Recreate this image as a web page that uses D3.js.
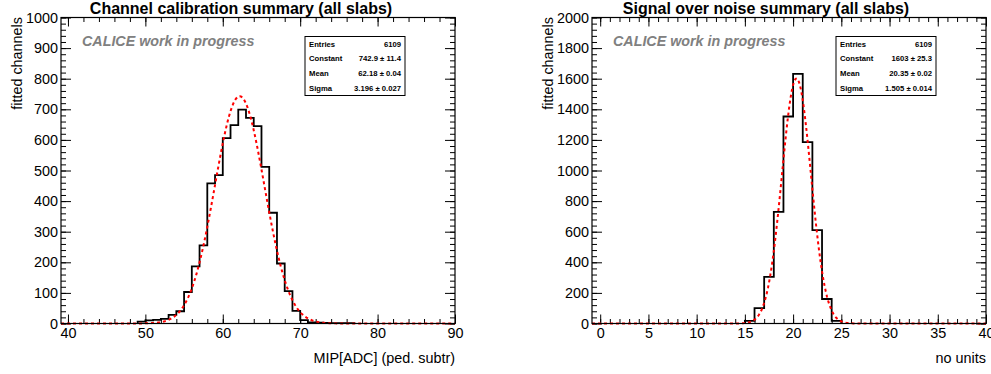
<!DOCTYPE html>
<html>
<head>
<meta charset="utf-8">
<script src="https://cdn.jsdelivr.net/npm/d3@7"></script>
<style>
  body { margin: 0; background: #fff; }
  svg { display: block; font-family: "Liberation Sans", Arial, Helvetica, sans-serif; }
</style>
</head>
<body>
<svg width="991" height="374"></svg>
<script>
// left: MIP calibration, bins of width 1 (lower edge -> entries)
const mipBinLow = [49, 50, 51, 52, 53, 54, 55, 56, 57, 58, 59, 60, 61, 62, 63, 64, 65, 66, 67, 68, 69, 70, 71, 72, 73, 74, 75, 76];
const mipCounts = [6, 10, 12, 15, 28, 40, 103, 187, 255, 458, 485, 606, 648, 699, 672, 645, 512, 362, 196, 106, 41, 11, 4, 3, 2, 1, 1, 1];
const mipFit = [742.9, 62.18, 3.196];        // constant, mean, sigma
const mipFitErr = [11.4, 0.04, 0.027];
const mipXTicks = [40, 50, 60, 70, 80, 90];
const mipYTicks = [0, 100, 200, 300, 400, 500, 600, 700, 800, 900, 1000];

// right: signal over noise
const snrBinLow = [15, 16, 17, 18, 19, 20, 21, 22, 23, 24];
const snrCounts = [17, 100, 305, 730, 1353, 1632, 1185, 610, 160, 17];
const snrFit = [1603, 20.35, 1.505];
const snrFitErr = [25.3, 0.02, 0.014];
const snrXTicks = [0, 5, 10, 15, 20, 25, 30, 35, 40];
const snrYTicks = [0, 200, 400, 600, 800, 1000, 1200, 1400, 1600, 1800, 2000];

const entries = 6109;
const statNames = ["Entries", "Constant", "Mean", "Sigma"];

const svg = d3.select("svg");

function drawPanel(p) {
    const x = d3.scaleLinear().domain(p.xDomain).range([p.left, p.left + 394]);
    const y = d3.scaleLinear().domain([0, p.yMax]).range([323.5, 17.5]);
    const x0 = x.range()[0], x1 = x.range()[1];
    const g = svg.append("g");
    const fmt = d3.format("d");

    // minor tick values
    const xStep = (p.xTicks[1] - p.xTicks[0]) / 5;
    const yStep = (p.yTicks[1] - p.yTicks[0]) / 5;
    const xMinor = d3.range(Math.ceil(p.xDomain[0] / xStep) * xStep, p.xDomain[1] + 1e-9, xStep);
    const yMinor = d3.range(0, p.yMax + 1e-9, yStep);

    const axes = [
        [d3.axisBottom(x).tickValues(p.xTicks).tickSize(-9).tickPadding(4).tickFormat(fmt), `translate(0,${y(0)})`],
        [d3.axisBottom(x).tickValues(xMinor).tickSize(-4.5).tickFormat(""), `translate(0,${y(0)})`],
        [d3.axisTop(x).tickValues(p.xTicks).tickSize(-9).tickFormat(""), `translate(0,${y(p.yMax)})`],
        [d3.axisTop(x).tickValues(xMinor).tickSize(-4.5).tickFormat(""), `translate(0,${y(p.yMax)})`],
        [d3.axisLeft(y).tickValues(p.yTicks).tickSize(-10).tickPadding(3).tickFormat(fmt), `translate(${x0},0)`],
        [d3.axisLeft(y).tickValues(yMinor).tickSize(-5).tickFormat(""), `translate(${x0},0)`],
        [d3.axisRight(y).tickValues(p.yTicks).tickSize(-10).tickFormat(""), `translate(${x1},0)`],
        [d3.axisRight(y).tickValues(yMinor).tickSize(-5).tickFormat(""), `translate(${x1},0)`]
    ];
    axes.forEach(([ax, tr]) => {
        g.append("g")
            .attr("transform", tr)
            .call(ax)
            .call(a => a.select(".domain").remove())
            .attr("font-family", null)
            .attr("font-size", 14.4)
            .selectAll("text").attr("fill", "#000");
    });

    // histogram outline (steps)
    const pts = [[p.binLow[0], 0]];
    p.binLow.forEach((lo, i) => {
        pts.push([lo, p.counts[i]]);
        pts.push([lo + 1, p.counts[i]]);
    });
    pts.push([p.binLow[p.binLow.length - 1] + 1, 0]);
    g.append("path")
        .datum(pts)
        .attr("fill", "none")
        .attr("stroke", "#000")
        .attr("stroke-width", 1.8)
        .attr("d", d3.line().x(d => x(d[0])).y(d => y(d[1])));

    // gaussian fit
    const [c, m, s] = p.fit;
    const fx = d3.range(0, 301).map(i => p.xDomain[0] + (p.xDomain[1] - p.xDomain[0]) * i / 300);
    g.append("path")
        .datum(fx)
        .attr("fill", "none")
        .attr("stroke", "#ff0000")
        .attr("stroke-width", 2)
        .attr("stroke-dasharray", "3,3")
        .attr("d", d3.line().x(v => x(v)).y(v => y(c * Math.exp(-0.5 * ((v - m) / s) ** 2))));

    // frame
    g.append("rect")
        .attr("x", x0).attr("y", y(p.yMax))
        .attr("width", x1 - x0).attr("height", y(0) - y(p.yMax))
        .attr("fill", "none").attr("stroke", "#000").attr("stroke-width", 1.2);

    // titles
    g.append("text")
        .attr("x", p.titleX).attr("y", 14)
        .attr("text-anchor", "middle")
        .attr("font-size", 16).attr("font-weight", "bold")
        .text(p.title);
    g.append("text")
        .attr("x", x0 + 21).attr("y", 46)
        .attr("font-size", 14.3).attr("font-weight", "bold").attr("font-style", "italic")
        .attr("fill", "#808080")
        .text("CALICE work in progress");
    g.append("text")
        .attr("transform", `translate(${x0 - 39},17) rotate(-90)`)
        .attr("text-anchor", "end")
        .attr("font-size", 14.4)
        .text("fitted channels");
    g.append("text")
        .attr("x", x1).attr("y", 363)
        .attr("text-anchor", "end")
        .attr("font-size", 14.4)
        .text(p.xTitle);

    // stats box
    const bx = x0 + 244, by = 36.5, bw = 100, rowH = 14.75;
    const vals = [String(entries)].concat(p.fit.map((v, i) =>
        `${v} \u00b1 ${p.fitErr[i]}`));
    const box = g.append("g");
    box.append("rect")
        .attr("x", bx).attr("y", by).attr("width", bw).attr("height", rowH * 4)
        .attr("fill", "#fff").attr("stroke", "#000").attr("stroke-width", 1);
    statNames.forEach((nm, i) => {
        const ty = by + rowH * (i + 0.5);
        box.append("text")
            .attr("x", bx + 4).attr("y", ty).attr("dy", "0.35em")
            .attr("font-size", 7.7).attr("font-weight", "bold")
            .text(nm);
        box.append("text")
            .attr("x", bx + bw - 4).attr("y", ty).attr("dy", "0.35em")
            .attr("text-anchor", "end")
            .attr("font-size", 7.7).attr("font-weight", "bold")
            .text(vals[i]);
    });
}

drawPanel({
    left: 61, xDomain: [39.1, 90], yMax: 1000,
    xTicks: mipXTicks, yTicks: mipYTicks,
    binLow: mipBinLow, counts: mipCounts,
    fit: mipFit, fitErr: mipFitErr,
    title: "Channel calibration summary (all slabs)", titleX: 241,
    xTitle: "MIP[ADC] (ped. subtr)"
});

drawPanel({
    left: 592, xDomain: [-0.85, 40], yMax: 2000,
    xTicks: snrXTicks, yTicks: snrYTicks,
    binLow: snrBinLow, counts: snrCounts,
    fit: snrFit, fitErr: snrFitErr,
    title: "Signal over noise summary (all slabs)", titleX: 766,
    xTitle: "no units"
});
</script>
</body>
</html>
